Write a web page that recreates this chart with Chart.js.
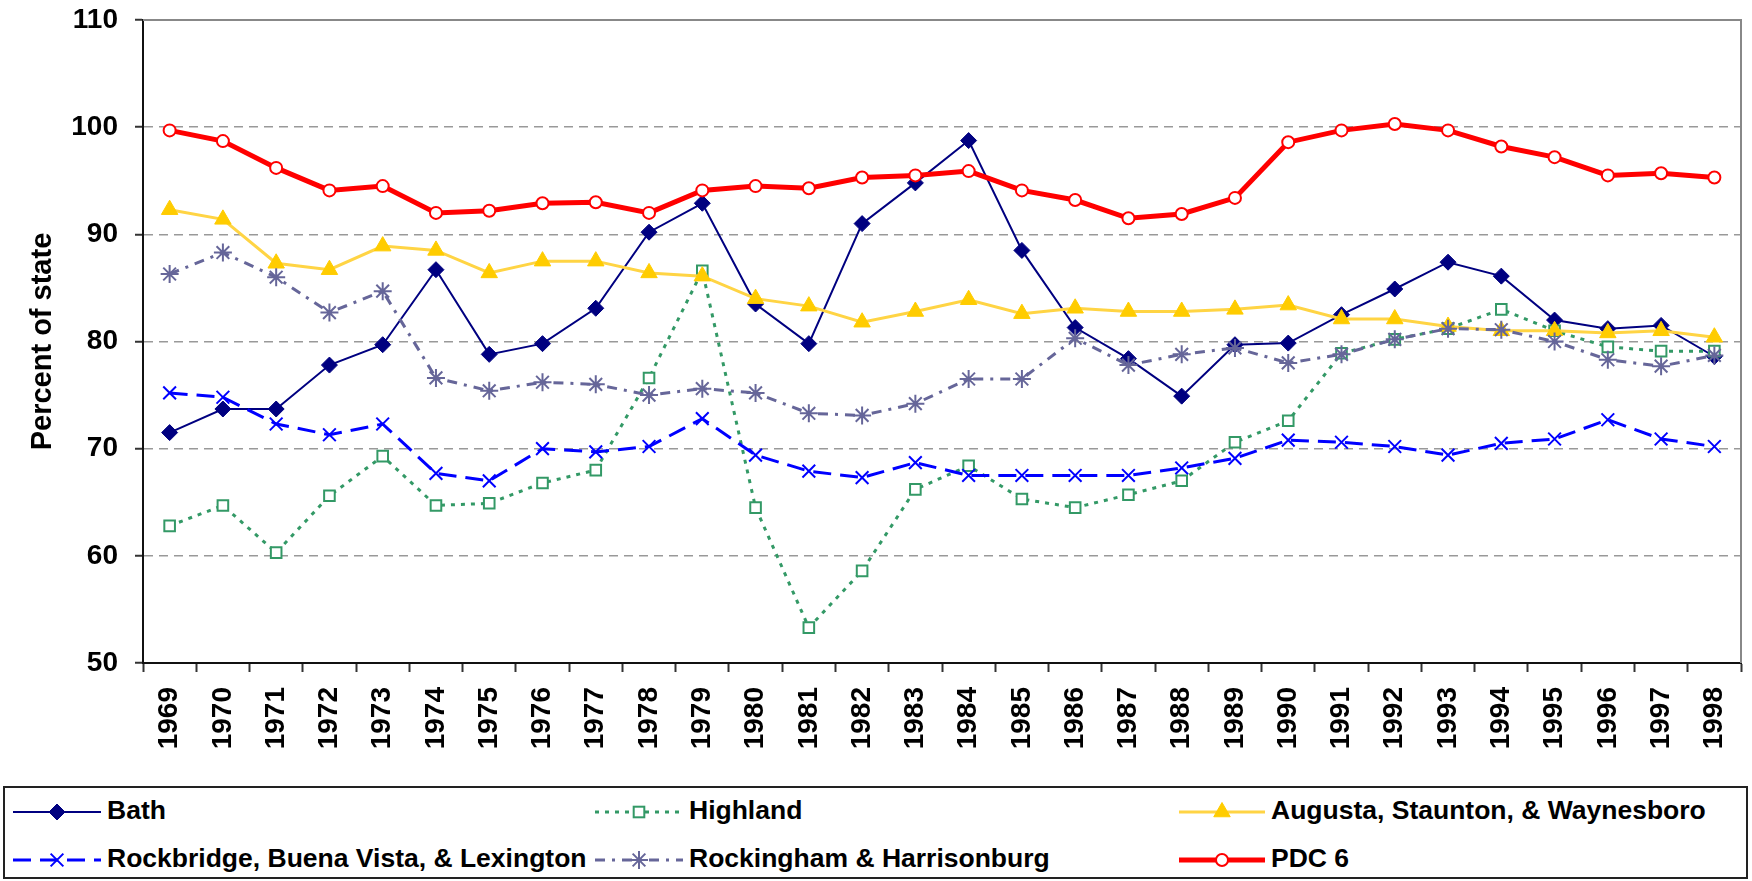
<!DOCTYPE html>
<html>
<head>
<meta charset="utf-8">
<script src="https://cdn.jsdelivr.net/npm/chart.js@4/dist/chart.umd.min.js"></script>
<style>
  html, body { margin: 0; padding: 0; background: #fff; }
  body { width: 1752px; height: 881px; position: relative; overflow: hidden; font-family: 'Liberation Sans', Arial, sans-serif; }
  #wrap { position: absolute; left: 0; top: 0; width: 1752px; height: 780px; }
  #legend { position: absolute; left: 3px; top: 786px; width: 1745px; height: 93px; border: 2px solid #222; box-sizing: border-box; background: #fff; }
  .item { position: absolute; height: 40px; }
  .item span { position: absolute; top: 3px; font-weight: bold; font-size: 26.5px; color: #000; white-space: nowrap; }
  .item svg { position: absolute; top: 5px; }
</style>
</head>
<body>
<div id="wrap"><canvas id="c"></canvas></div>
<div id="legend"></div>
<script>
const years = ['1969','1970','1971','1972','1973','1974','1975','1976','1977','1978','1979','1980','1981','1982','1983','1984','1985','1986','1987','1988','1989','1990','1991','1992','1993','1994','1995','1996','1997','1998'];
const bath = [71.5, 73.7, 73.7, 77.8, 79.7, 86.7, 78.8, 79.8, 83.1, 90.2, 92.9, 83.5, 79.8, 91.0, 94.8, 98.75, 88.5, 81.3, 78.4, 74.9, 79.7, 79.85, 82.5, 84.9, 87.4, 86.1, 82.0, 81.2, 81.5, 78.6];
const highland = [62.8, 64.7, 60.3, 65.6, 69.3, 64.7, 64.9, 66.8, 68.0, 76.6, 86.6, 64.5, 53.3, 58.6, 66.2, 68.4, 65.3, 64.5, 65.7, 67.0, 70.6, 72.6, 78.9, 80.2, 81.2, 83.0, 81.0, 79.5, 79.1, 79.1];
const augusta = [92.3, 91.4, 87.3, 86.7, 88.9, 88.5, 86.4, 87.5, 87.5, 86.4, 86.1, 84.0, 83.3, 81.8, 82.8, 83.9, 82.6, 83.1, 82.8, 82.8, 83.0, 83.4, 82.1, 82.1, 81.4, 81.0, 81.0, 80.8, 81.0, 80.4];
const rockbridge = [75.2, 74.8, 72.3, 71.3, 72.3, 67.7, 67.0, 70.0, 69.7, 70.2, 72.8, 69.4, 67.9, 67.3, 68.7, 67.5, 67.5, 67.5, 67.5, 68.2, 69.1, 70.8, 70.6, 70.2, 69.4, 70.5, 70.9, 72.7, 70.9, 70.2];
const rockingham = [86.3, 88.3, 86.0, 82.7, 84.7, 76.6, 75.4, 76.2, 76.0, 75.0, 75.6, 75.2, 73.3, 73.1, 74.2, 76.5, 76.5, 80.3, 77.8, 78.8, 79.4, 78.0, 78.8, 80.2, 81.2, 81.1, 80.0, 78.3, 77.7, 78.7];
const pdc6 = [99.7, 98.7, 96.2, 94.1, 94.5, 92.0, 92.2, 92.9, 93.0, 92.0, 94.1, 94.5, 94.3, 95.3, 95.5, 95.9, 94.1, 93.2, 91.5, 91.9, 93.4, 98.6, 99.7, 100.3, 99.7, 98.2, 97.2, 95.5, 95.7, 95.3];
const seriesNames = ['Bath', 'Highland', 'Augusta, Staunton, & Waynesboro', 'Rockbridge, Buena Vista, & Lexington', 'Rockingham & Harrisonburg', 'PDC 6'];
const yTicks = [50, 60, 70, 80, 90, 100, 110];

const FONT = "'Liberation Sans', Arial, sans-serif";

const datasets = [
  { label: seriesNames[0], data: bath, borderColor: '#000080', backgroundColor: '#000080', borderWidth: 2,
    pointStyle: 'rectRot', pointRadius: 8, pointBorderWidth: 1, pointBackgroundColor: '#000080', pointBorderColor: '#000080', order: 6 },
  { label: seriesNames[1], data: highland, borderColor: '#339966', backgroundColor: '#fff', borderWidth: 3, borderDash: [4, 6],
    pointStyle: 'rect', pointRadius: 7.5, pointBorderWidth: 2, pointBackgroundColor: '#fff', pointBorderColor: '#339966', order: 5 },
  { label: seriesNames[2], data: augusta, borderColor: '#FFD444', backgroundColor: '#FFCC00', borderWidth: 3,
    pointStyle: 'triangle', pointRadius: 9.5, pointBorderWidth: 1, pointBackgroundColor: '#FFCC00', pointBorderColor: '#FFCC00', order: 4 },
  { label: seriesNames[3], data: rockbridge, borderColor: '#0000FF', backgroundColor: '#0000FF', borderWidth: 3, borderDash: [18, 9],
    pointStyle: 'crossRot', pointRadius: 9, pointBorderWidth: 2, pointBorderColor: '#0000FF', order: 3 },
  { label: seriesNames[4], data: rockingham, borderColor: '#666699', backgroundColor: '#666699', borderWidth: 3, borderDash: [10, 7, 3, 7],
    pointStyle: 'star', pointRadius: 9, pointBorderWidth: 2, pointBorderColor: '#666699', order: 2 },
  { label: seriesNames[5], data: pdc6, borderColor: '#FF0000', backgroundColor: '#fff', borderWidth: 5,
    pointStyle: 'circle', pointRadius: 6, pointBorderWidth: 2, pointBackgroundColor: '#fff', pointBorderColor: '#FF0000', order: 1 }
];
datasets.forEach(d => { d.tension = 0; d.fill = false; d.pointHoverRadius = d.pointRadius; });

const frame = {
  id: 'frame',
  beforeDatasetsDraw(chart) {
    const a = chart.chartArea, ctx = chart.ctx;
    ctx.save();
    ctx.strokeStyle = '#888';
    ctx.lineWidth = 2;
    ctx.beginPath();
    ctx.moveTo(a.left, a.top);
    ctx.lineTo(a.right, a.top);
    ctx.lineTo(a.right, a.bottom);
    ctx.stroke();
    ctx.restore();
  }
};

new Chart(document.getElementById('c'), {
  type: 'line',
  data: { labels: years, datasets },
  plugins: [frame],
  options: {
    responsive: true,
    maintainAspectRatio: false,
    animation: false,
    layout: { padding: { top: 20, right: 5, left: 0, bottom: 0 } },
    plugins: { legend: { display: false }, tooltip: { enabled: false } },
    scales: {
      x: {
        type: 'category',
        offset: true,
        afterFit(s) { s.height = 117; s.paddingLeft = 0; s.paddingRight = 0; },
        grid: { display: true, drawOnChartArea: false, drawTicks: true, offset: true, tickLength: 9, tickColor: '#333', tickWidth: 2 },
        border: { display: true, color: '#111', width: 2 },
        ticks: { autoSkip: false, maxRotation: 90, minRotation: 90, padding: 15, color: '#000',
                 font: { family: FONT, size: 28, weight: 'bold' } }
      },
      y: {
        min: yTicks[0], max: yTicks[yTicks.length - 1],
        afterFit(s) { s.width = 143; s.paddingTop = 0; s.paddingBottom = 0; },
        afterBuildTicks(s) { s.ticks = yTicks.map(v => ({ value: v })); },
        grid: {
          color: c => (c.tick && (c.tick.value === 110 || c.tick.value === 50)) ? 'rgba(0,0,0,0)' : '#999',
          lineWidth: 1.5, tickLength: 8, tickColor: '#333', tickWidth: 2, tickBorderDash: []
        },
        border: { display: true, color: '#111', width: 2, dash: [9, 6] },
        ticks: { padding: 17, color: '#000', font: { family: FONT, size: 28, weight: 'bold' } },
        title: { display: true, text: 'Percent of state', color: '#000', padding: { top: 26, bottom: 0 },
                 font: { family: FONT, size: 29, weight: 'bold' } }
      }
    }
  }
});

// HTML legend built from the dataset styles
const legendPos = [
  { sx: 13, tx: 107, row: 0 }, { sx: 595, tx: 689, row: 0 }, { sx: 1179, tx: 1271, row: 0 },
  { sx: 13, tx: 107, row: 1 }, { sx: 595, tx: 689, row: 1 }, { sx: 1179, tx: 1271, row: 1 }
];
function markerSVG(d, cx, cy) {
  const r = d.pointRadius, bc = d.pointBorderColor, bg = d.pointBackgroundColor || 'none', bw = d.pointBorderWidth;
  switch (d.pointStyle) {
    case 'rectRot': return `<polygon points="${cx},${cy - r} ${cx + r},${cy} ${cx},${cy + r} ${cx - r},${cy}" fill="${bg}" stroke="${bc}" stroke-width="${bw}"/>`;
    case 'rect': { const s = r / Math.SQRT2; return `<rect x="${cx - s}" y="${cy - s}" width="${2 * s}" height="${2 * s}" fill="${bg}" stroke="${bc}" stroke-width="${bw}"/>`; }
    case 'triangle': return `<polygon points="${cx},${cy - r} ${cx + r * 0.866},${cy + r * 0.5} ${cx - r * 0.866},${cy + r * 0.5}" fill="${bg}" stroke="${bc}" stroke-width="${bw}"/>`;
    case 'crossRot': { const s = r * 0.707; return `<path d="M${cx - s} ${cy - s}L${cx + s} ${cy + s}M${cx + s} ${cy - s}L${cx - s} ${cy + s}" stroke="${bc}" stroke-width="${bw}"/>`; }
    case 'star': { const s = r * 0.707; return `<path d="M${cx - s} ${cy - s}L${cx + s} ${cy + s}M${cx + s} ${cy - s}L${cx - s} ${cy + s}M${cx} ${cy - r}L${cx} ${cy + r}M${cx - r} ${cy}L${cx + r} ${cy}" stroke="${bc}" stroke-width="${bw}"/>`; }
    case 'circle': return `<circle cx="${cx}" cy="${cy}" r="${r}" fill="${bg}" stroke="${bc}" stroke-width="${bw}"/>`;
  }
  return '';
}
const leg = document.getElementById('legend');
datasets.forEach((d, i) => {
  const p = legendPos[i];
  const rowY = p.row === 0 ? 812 : 860;
  const top = rowY - 786 - 2 - 20;
  const w = p.tx - p.sx - 6;
  const dash = d.borderDash ? `stroke-dasharray="${d.borderDash.join(' ')}"` : '';
  const item = document.createElement('div');
  item.className = 'item';
  item.style.left = (p.sx - 5) + 'px';
  item.style.top = top + 'px';
  item.innerHTML = `<svg width="${w}" height="30" style="left:0"><line x1="0" y1="15" x2="${w}" y2="15" stroke="${d.borderColor}" stroke-width="${d.borderWidth}" ${dash}/>${markerSVG(d, w / 2, 15)}</svg><span style="left:${p.tx - p.sx}px">${d.label}</span>`;
  leg.appendChild(item);
});
</script>
</body>
</html>
